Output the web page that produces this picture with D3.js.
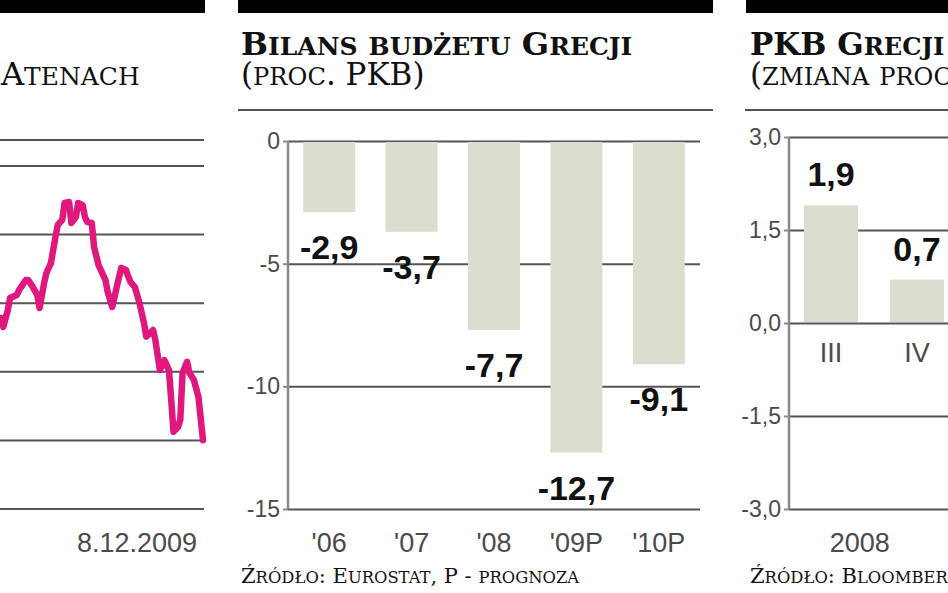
<!DOCTYPE html>
<html><head><meta charset="utf-8">
<script src="https://cdn.jsdelivr.net/npm/d3@7"></script>
<style>
html,body{margin:0;padding:0;background:#fff;}
svg{display:block;}
</style></head><body>
<svg id="c" width="948" height="593"></svg>
<script>
// ---- data ----
const stockDates = ["2009-09-10","2009-09-11","2009-09-13","2009-09-14","2009-09-15","2009-09-17","2009-09-18","2009-09-21","2009-09-22","2009-09-24","2009-09-26","2009-09-27","2009-09-29","2009-09-30","2009-10-02","2009-10-03","2009-10-04","2009-10-05","2009-10-07","2009-10-08","2009-10-10","2009-10-11","2009-10-13","2009-10-14","2009-10-16","2009-10-17","2009-10-18","2009-10-20","2009-10-21","2009-10-23","2009-10-25","2009-10-26","2009-10-27","2009-10-29","2009-10-30","2009-11-01","2009-11-02","2009-11-04","2009-11-06","2009-11-08","2009-11-10","2009-11-12","2009-11-13","2009-11-16","2009-11-17","2009-11-18","2009-11-19","2009-11-21","2009-11-23","2009-11-24","2009-11-25","2009-11-27","2009-11-28","2009-11-29","2009-12-01","2009-12-02","2009-12-04","2009-12-06","2009-12-08"];
const stockValues = [2557,2531,2580,2615,2618,2624,2639,2668,2668,2647,2624,2586,2659,2688,2717,2755,2793,2828,2843,2892,2895,2834,2851,2892,2886,2851,2837,2834,2764,2711,2682,2668,2633,2589,2618,2676,2703,2697,2662,2647,2601,2542,2502,2522,2493,2449,2405,2434,2405,2318,2225,2239,2260,2397,2429,2397,2376,2327,2201];
const stockGrid = [3000,2800,2600,2400,2200,2000];
const stockDateLabel = "8.12.2009";

const budgetYears = ["'06","'07","'08","'09P","'10P"];
const budgetValues = [-2.9,-3.7,-7.7,-12.7,-9.1];
const budgetTicks = [0,-5,-10,-15];

const gdpQuarters = ["III","IV"];
const gdpValues = [1.9,0.7];
const gdpTicks = [3,1.5,0,-1.5,-3];
const gdpYear = "2008";

// ---- setup ----
const svg = d3.select("#c");
const loc = d3.formatLocale({decimal:",",thousands:" ",grouping:[3],currency:["",""],minus:"-"});
const f1 = loc.format(".1f"), f0 = loc.format("d");
const parse = d3.timeParse("%Y-%m-%d");

const SERIF = '"DejaVu Serif", serif';
const SANS = '"Liberation Sans", Arial, sans-serif';
const NARROW = '"Liberation Sans Narrow", "Liberation Sans", sans-serif';
const GRID = "#555", AXIS = "#8a8a8a", BAR = "#dcdccf", TXT = "#4a4a4a";

// manual small caps: lowercase letters are drawn as capitals at a smaller size
function smallCaps(x, y, str, bold, size, ratio) {
  const t = svg.append("text").attr("x", x).attr("y", y)
    .style("font-family", SERIF).style("font-weight", bold ? "bold" : "normal")
    .style("font-size", size + "px").attr("fill", "#111");
  const runs = [];
  for (const ch of str) {
    const low = ch !== ch.toUpperCase();
    if (runs.length && runs[runs.length - 1].low === low) runs[runs.length - 1].s += ch;
    else runs.push({low, s: ch});
  }
  runs.forEach(r => t.append("tspan")
    .style("font-size", (r.low ? size * ratio : size) + "px")
    .text(r.low ? r.s.toUpperCase() : r.s));
  return t;
}
function hline(x1, x2, y, color, w) {
  svg.append("line").attr("x1", x1).attr("x2", x2).attr("y1", y).attr("y2", y)
    .attr("stroke", color).attr("stroke-width", w);
}

// ---- left panel: stock index ----
svg.append("rect").attr("x", 0).attr("y", 0).attr("width", 205).attr("height", 13).attr("fill", "#000");
smallCaps(1, 85, "Atenach", false, 32, 0.78);
hline(0, 204, 140, GRID, 2);
const xL = d3.scaleTime().domain([parse("2009-09-10"), parse("2009-12-08")]).range([1, 203]);
const yL = d3.scaleLinear().domain([2000, 3000]).range([509, 166]);
svg.append("g").selectAll("line").data(stockGrid).join("line")
  .attr("x1", 0).attr("x2", 204).attr("y1", d => yL(d)).attr("y2", d => yL(d))
  .attr("stroke", GRID).attr("stroke-width", 2);
const pts = stockDates.map((d, i) => [parse(d), stockValues[i]]);
svg.append("path").datum(pts)
  .attr("d", d3.line().x(d => xL(d[0])).y(d => yL(d[1])))
  .attr("fill", "none").attr("stroke", "#e0187e").attr("stroke-width", 6.5)
  .attr("stroke-linejoin", "round").attr("stroke-linecap", "round");
svg.append("text").attr("x", 197).attr("y", 552).attr("text-anchor", "end")
  .style("font-family", NARROW).style("font-size", "27px").attr("fill", TXT).text(stockDateLabel);

// ---- middle panel: budget ----
svg.append("rect").attr("x", 238).attr("y", 0).attr("width", 475).attr("height", 13).attr("fill", "#000");
smallCaps(241, 55, "Bilans budżetu Grecji", true, 32, 0.78);
smallCaps(241, 85, "(proc. PKB)", false, 31, 0.78);
hline(238, 713, 110, GRID, 2);

const xB = d3.scaleBand().domain(budgetYears).range([288, 700]).paddingInner(0.37).paddingOuter(0.185);
const yB = d3.scaleLinear().domain([-15, 0]).range([509, 141]);
const gB = svg.append("g");
gB.append("g").attr("transform", "translate(288,0)")
  .call(d3.axisRight(yB).tickValues(budgetTicks).tickSize(412).tickFormat(""))
  .call(g => g.select(".domain").remove())
  .call(g => g.selectAll("line").attr("stroke", GRID).attr("stroke-width", 2));
gB.append("g").selectAll("rect").data(budgetValues).join("rect")
  .attr("x", (d, i) => xB(budgetYears[i])).attr("width", xB.bandwidth())
  .attr("y", yB(0) + 1).attr("height", d => yB(d) - yB(0) - 1).attr("fill", BAR);
gB.append("g").attr("transform", "translate(288,0)")
  .call(d3.axisLeft(yB).tickValues(budgetTicks).tickSize(5).tickPadding(3).tickFormat(f0))
  .call(g => g.select(".domain").attr("stroke", AXIS).attr("stroke-width", 2.5).attr("d", `M0,${yB(0)}V${yB(-15)}`))
  .call(g => g.selectAll("line").attr("stroke", AXIS).attr("stroke-width", 2))
  .call(g => g.selectAll("text").style("font-family", NARROW).style("font-size", "23px").attr("fill", TXT));
gB.append("g").selectAll("text").data(budgetYears).join("text")
  .attr("x", d => xB(d) + xB.bandwidth() / 2).attr("y", 552).attr("text-anchor", "middle")
  .style("font-family", NARROW).style("font-size", "27px").attr("fill", TXT).text(d => d);
gB.append("g").selectAll("text").data(budgetValues).join("text")
  .attr("x", (d, i) => xB(budgetYears[i]) + xB.bandwidth() / 2).attr("y", d => yB(d) + 47)
  .attr("text-anchor", "middle").style("font-family", SANS).style("font-weight", "bold")
  .style("font-size", "34px").attr("fill", "#111").text(d => f1(d));
smallCaps(241, 583, "Źródło: Eurostat, P - prognoza", false, 21, 0.78);

// ---- right panel: GDP ----
svg.append("rect").attr("x", 746).attr("y", 0).attr("width", 202).attr("height", 13).attr("fill", "#000");
smallCaps(750, 55, "PKB Grecji", true, 31, 0.78);
smallCaps(750, 85, "(zmiana proc. PKB)", false, 31, 0.78);
hline(745, 948, 110, GRID, 2);

const xG = d3.scaleBand().domain(gdpQuarters).range([789, 959]).paddingInner(0.37).paddingOuter(0.175);
const yG = d3.scaleLinear().domain([-3, 3]).range([509, 137]);
const gG = svg.append("g");
gG.append("g").attr("transform", "translate(789,0)")
  .call(d3.axisRight(yG).tickValues(gdpTicks).tickSize(170).tickFormat(""))
  .call(g => g.select(".domain").remove())
  .call(g => g.selectAll("line").attr("stroke", GRID).attr("stroke-width", 2));
gG.append("g").selectAll("rect").data(gdpValues).join("rect")
  .attr("x", (d, i) => xG(gdpQuarters[i])).attr("width", xG.bandwidth())
  .attr("y", d => yG(d)).attr("height", d => yG(0) - yG(d) - 1).attr("fill", BAR);
gG.append("g").attr("transform", "translate(789,0)")
  .call(d3.axisLeft(yG).tickValues(gdpTicks).tickSize(5).tickPadding(3).tickFormat(f1))
  .call(g => g.select(".domain").attr("stroke", AXIS).attr("stroke-width", 2.5).attr("d", `M0,${yG(3)}V${yG(-3)}`))
  .call(g => g.selectAll("line").attr("stroke", AXIS).attr("stroke-width", 2))
  .call(g => g.selectAll("text").style("font-family", NARROW).style("font-size", "23px").attr("fill", TXT));
gG.append("g").selectAll("text").data(gdpQuarters).join("text")
  .attr("x", d => xG(d) + xG.bandwidth() / 2).attr("y", 362).attr("text-anchor", "middle")
  .style("font-family", NARROW).style("font-size", "27px").attr("fill", TXT).text(d => d);
gG.append("g").selectAll("text").data(gdpValues).join("text")
  .attr("x", (d, i) => xG(gdpQuarters[i]) + xG.bandwidth() / 2).attr("y", d => yG(d) - 19)
  .attr("text-anchor", "middle").style("font-family", SANS).style("font-weight", "bold")
  .style("font-size", "34px").attr("fill", "#111").text(d => f1(d));
svg.append("text").attr("x", xG(gdpQuarters[1]) - xG.step() * 0.35).attr("y", 552).attr("text-anchor", "middle")
  .style("font-family", NARROW).style("font-size", "27px").attr("fill", TXT).text(gdpYear);
smallCaps(750, 583, "Źródło: Bloomberg", false, 21, 0.78);
</script>
</body></html>
